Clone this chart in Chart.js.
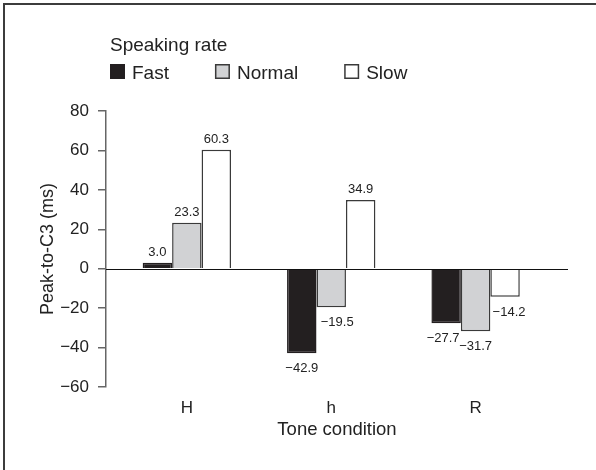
<!DOCTYPE html>
<html>
<head>
<meta charset="utf-8">
<script src="https://cdn.jsdelivr.net/npm/chart.js@4.4.0/dist/chart.umd.min.js"></script>
<style>
  body { margin: 0; background: #fff; overflow: hidden; }
  #wrap { position: relative; width: 596px; height: 470px; }
  #frame {
    position: absolute; left: 3px; top: 3px; width: 593px; height: 467px;
    border-top: 2px solid #3c3c3c; border-left: 2px solid #3c3c3c;
    box-sizing: border-box;
  }
  canvas { position: absolute; left: 0; top: 0; }
</style>
</head>
<body>
<div id="wrap">
  <div id="frame"></div>
  <canvas id="myChart" width="596" height="470"></canvas>
</div>
<script>
var toneConditions = ['H', 'h', 'R'];
var rateNames = ['Fast', 'Normal', 'Slow'];
var fastValues = [3.0, -42.9, -27.7];
var normalValues = [23.3, -19.5, -31.7];
var slowValues = [60.3, 34.9, -14.2];
var yTicks = [-60, -40, -20, 0, 20, 40, 60, 80];

var fontFamily = "'Liberation Sans', Arial, Helvetica, sans-serif";
var ink = '#222';

// little sideways shifts so the value labels don't sit on a neighbouring bar
var labelNudge = { '1-1': 6, '2-2': 4, '0-2': -3 };

function points(values) {
  return values.map(function (v, i) { return { x: i + 1, y: v }; });
}

var dataSource = {
  datasets: [
    { label: rateNames[0], data: points(fastValues), backgroundColor: '#231f20', borderColor: '#231f20' },
    { label: rateNames[1], data: points(normalValues), backgroundColor: '#d1d2d4', borderColor: '#3a3a3a' },
    { label: rateNames[2], data: points(slowValues), backgroundColor: '#ffffff', borderColor: '#3a3a3a' }
  ]
};

function fmt(v) {
  var s = Math.abs(v).toFixed(1);
  return v < 0 ? '\u2212' + s : s;
}

var valueLabels = {
  id: 'valueLabels',
  afterDatasetsDraw: function (chart) {
    var ctx = chart.ctx;
    ctx.save();
    ctx.font = '13px ' + fontFamily;
    ctx.fillStyle = ink;
    ctx.textAlign = 'center';
    chart.data.datasets.forEach(function (ds, di) {
      chart.getDatasetMeta(di).data.forEach(function (bar, i) {
        var v = ds.data[i].y;
        var dx = labelNudge[di + '-' + i] || 0;
        if (v >= 0) {
          ctx.textBaseline = 'alphabetic';
          ctx.fillText(fmt(v), bar.x + dx, bar.y - 7);
        } else {
          ctx.textBaseline = 'top';
          ctx.fillText(fmt(v), bar.x + dx, bar.y + 9);
        }
      });
    });
    ctx.restore();
  }
};

// zero line across the plot
var zeroLine = {
  id: 'zeroLine',
  afterDatasetsDraw: function (chart) {
    var ctx = chart.ctx, area = chart.chartArea;
    var y = Math.round(chart.scales.y.getPixelForValue(0)) + 0.5;
    ctx.save();
    ctx.strokeStyle = '#111';
    ctx.lineWidth = 1;
    ctx.beginPath();
    ctx.moveTo(area.left, y);
    ctx.lineTo(area.right, y);
    ctx.stroke();
    ctx.restore();
  }
};

// legend with heading, laid out in one row
var rateLegend = {
  id: 'rateLegend',
  afterDraw: function (chart) {
    var ctx = chart.ctx;
    ctx.save();
    ctx.font = '19px ' + fontFamily;
    ctx.fillStyle = ink;
    ctx.textAlign = 'left';
    ctx.textBaseline = 'alphabetic';
    ctx.fillText('Speaking rate', 110, 51);
    var x = 110;
    chart.data.datasets.forEach(function (ds) {
      ctx.fillStyle = ds.backgroundColor;
      ctx.fillRect(x, 64, 15, 15);
      ctx.strokeStyle = ds.borderColor;
      ctx.lineWidth = 1.5;
      ctx.strokeRect(x + 0.75, 64.75, 13.5, 13.5);
      ctx.fillStyle = ink;
      ctx.fillText(ds.label, x + 22, 78.5);
      x += 22 + ctx.measureText(ds.label).width + 46;
    });
    ctx.restore();
  }
};

function createChart() {
  var ctx = document.getElementById('myChart').getContext('2d');
  new Chart(ctx, {
    type: 'bar',
    data: dataSource,
    plugins: [zeroLine, valueLabels, rateLegend],
    options: {
      responsive: false,
      animation: false,
      events: [],
      layout: { padding: { top: 111, left: 10, right: 28, bottom: 23 } },
      datasets: {
        bar: { borderWidth: 1.5, categoryPercentage: 0.612, barPercentage: 1 }
      },
      plugins: { legend: { display: false }, tooltip: { enabled: false } },
      scales: {
        x: {
          type: 'linear',
          min: 0.44,
          max: 3.64,
          offset: false,
          bounds: 'data',
          afterFit: function (scale) { scale.height = 60; },
          afterBuildTicks: function (scale) {
            scale.ticks = toneConditions.map(function (c, i) { return { value: i + 1 }; });
          },
          grid: { display: false, offset: false },
          border: { display: false },
          ticks: {
            autoSkip: false,
            maxRotation: 0,
            padding: 3,
            color: ink,
            font: { family: fontFamily, size: 17 },
            callback: function (v) { return toneConditions[v - 1] || ''; }
          },
          title: {
            display: true,
            text: 'Tone condition',
            color: ink,
            padding: { top: 0, bottom: 6 },
            font: { family: fontFamily, size: 18.5 }
          }
        },
        y: {
          min: yTicks[0],
          max: yTicks[yTicks.length - 1],
          afterFit: function (scale) { scale.width = 96; },
          afterBuildTicks: function (scale) {
            scale.ticks = yTicks.map(function (v) { return { value: v }; });
          },
          grid: { drawOnChartArea: false, tickLength: 8, color: '#666', lineWidth: 1.5 },
          border: { color: '#666', width: 1.5 },
          ticks: {
            padding: 9,
            color: ink,
            font: { family: fontFamily, size: 17 },
            callback: function (v) { return v < 0 ? '\u2212' + Math.abs(v) : String(v); }
          },
          title: {
            display: true,
            text: 'Peak-to-C3 (ms)',
            color: ink,
            padding: { top: 27, bottom: 0 },
            font: { family: fontFamily, size: 18 }
          }
        }
      }
    }
  });
}
createChart();
</script>
</body>
</html>
